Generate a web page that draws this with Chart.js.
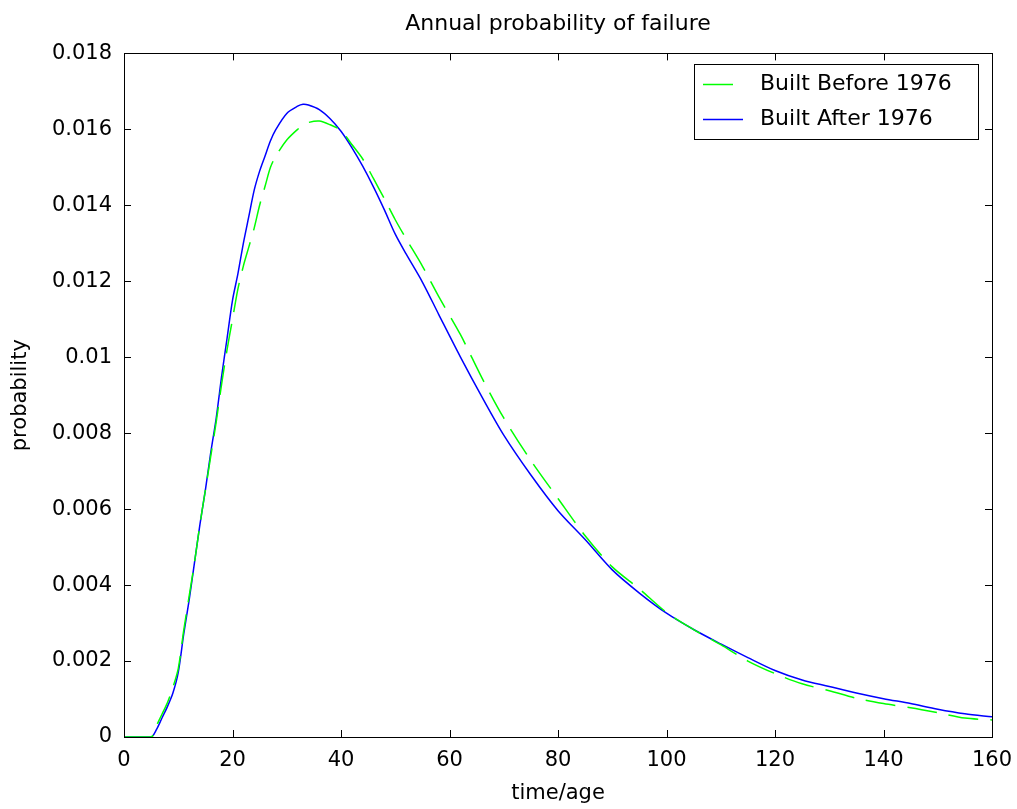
<!DOCTYPE html>
<html>
<head>
<meta charset="utf-8">
<title>Annual probability of failure</title>
<script src="https://cdn.jsdelivr.net/npm/chart.js@4.4.1/dist/chart.umd.min.js"></script>
<style>
	html, body { margin: 0; padding: 0; background: #fff; }
	#wrap { width: 1017px; height: 809px; }
</style>
</head>
<body>
<div id="wrap"><canvas id="failureChart" width="1017" height="809"></canvas></div>
<script>
'use strict';

// 데이터 (time/age 기준)
const ages = [0, 5, 6, 7, 8, 9, 10, 11, 12, 13, 14, 15, 16, 17, 18, 19, 20, 21, 22, 23, 24, 25, 26, 27, 28, 30, 32, 33, 34, 36, 38, 40, 42, 44, 46, 48, 50, 52, 55, 58, 62, 66, 70, 75, 80, 85, 90, 95, 100, 105, 110, 115, 120, 125, 130, 135, 140, 145, 150, 155, 160];

const builtBefore = [0, 0, 0.0003, 0.0006, 0.0009, 0.0013, 0.0018, 0.0028, 0.0037, 0.0046, 0.0056, 0.0065, 0.0074, 0.0083, 0.0093, 0.0102, 0.0110, 0.0118, 0.0124, 0.0129, 0.0134, 0.0140, 0.0145, 0.0150, 0.0153, 0.01572, 0.0160, 0.0161, 0.01618, 0.01622, 0.01612, 0.01597, 0.0156, 0.01522, 0.0147, 0.01417, 0.01362, 0.01312, 0.0124, 0.0116, 0.0106, 0.00945, 0.0084, 0.00728, 0.00628, 0.0053, 0.00448, 0.0039, 0.00328, 0.00283, 0.00243, 0.002, 0.00167, 0.0014, 0.00122, 0.00102, 0.00088, 0.00077, 0.00064, 0.0005, 0.00045];

const builtAfter = [0, 0, 0.0002, 0.0005, 0.0008, 0.00115, 0.0017, 0.0027, 0.0036, 0.0046, 0.0056, 0.0065, 0.0075, 0.0084, 0.0095, 0.0105, 0.0115, 0.0122, 0.0130, 0.0137, 0.0144, 0.0149, 0.0153, 0.0157, 0.0160, 0.01642, 0.01661, 0.01666, 0.01664, 0.01652, 0.01628, 0.01595, 0.01552, 0.01503, 0.01448, 0.01388, 0.01324, 0.01272, 0.01198, 0.01113, 0.01001, 0.00895, 0.00795, 0.0069, 0.00596, 0.0052, 0.0044, 0.00379, 0.00326, 0.00283, 0.00245, 0.00209, 0.00175, 0.0015, 0.00133, 0.00116, 0.00101, 0.00088, 0.00073, 0.00061, 0.00053];

const seriesLabels = ['Built Before 1976', 'Built After 1976'];
const yTickLabels = ['0', '0.002', '0.004', '0.006', '0.008', '0.01', '0.012', '0.014', '0.016', '0.018'];
const xTickLabels = ['0', '20', '40', '60', '80', '100', '120', '140', '160'];

const FONT = 'DejaVu Sans';

// x/y 점 배열 만들기
function toPoints(values) {
	return ages.map((age, i) => ({ x: age, y: values[i] }));
}

// 프레임 + 안쪽 눈금 (MATLAB box on)
const framePlugin = {
	id: 'frame',
	afterDraw(chart) {
		const ctx = chart.ctx;
		const area = chart.chartArea;
		const xs = chart.scales.x;
		const ys = chart.scales.y;
		const len = 7;

		ctx.save();
		ctx.strokeStyle = '#000';
		ctx.lineWidth = 1;
		ctx.strokeRect(Math.round(area.left) + 0.5, Math.round(area.top) + 0.5,
			Math.round(area.right - area.left), Math.round(area.bottom - area.top));

		ctx.beginPath();
		xs.ticks.forEach(t => {
			const px = Math.round(xs.getPixelForValue(t.value)) + 0.5;
			ctx.moveTo(px, area.bottom);
			ctx.lineTo(px, area.bottom - len);
			ctx.moveTo(px, area.top);
			ctx.lineTo(px, area.top + len);
		});
		ys.ticks.forEach(t => {
			const py = Math.round(ys.getPixelForValue(t.value)) + 0.5;
			ctx.moveTo(area.left, py);
			ctx.lineTo(area.left + len, py);
			ctx.moveTo(area.right, py);
			ctx.lineTo(area.right - len, py);
		});
		ctx.stroke();
		ctx.restore();
	}
};

// 범례 (플롯 안쪽 오른쪽 위)
const boxLegendPlugin = {
	id: 'boxLegend',
	afterDraw(chart) {
		const ctx = chart.ctx;
		const box = { left: 694, top: 64, right: 978, bottom: 139 };
		const rows = [84, 119];

		ctx.save();
		ctx.fillStyle = '#fff';
		ctx.fillRect(box.left, box.top, box.right - box.left, box.bottom - box.top);
		ctx.strokeStyle = '#000';
		ctx.lineWidth = 1;
		ctx.strokeRect(box.left + 0.5, box.top + 0.5, box.right - box.left, box.bottom - box.top);

		chart.data.datasets.forEach((ds, i) => {
			const y = rows[i] + 0.5;
			ctx.beginPath();
			ctx.strokeStyle = ds.borderColor;
			ctx.lineWidth = 1.5;
			ctx.setLineDash(ds.borderDash || []);
			ctx.moveTo(703, y);
			ctx.lineTo(743, y);
			ctx.stroke();
			ctx.setLineDash([]);

			ctx.fillStyle = '#000';
			ctx.font = '22px "' + FONT + '"';
			ctx.textAlign = 'left';
			ctx.textBaseline = 'middle';
			ctx.fillText(ds.label, 760, rows[i]);
		});
		ctx.restore();
	}
};

// 차트 초기화
function initFailureChart() {
	const failure_chart = document.getElementById('failureChart');
	if (!failure_chart) return;

	new Chart(failure_chart, {
		type: 'line',
		data: {
			datasets: [{
				label: seriesLabels[0],
				data: toPoints(builtBefore),
				borderColor: '#00ff00',
				borderWidth: 1.5,
				borderDash: [30, 12],
				pointRadius: 0,
				tension: 0.3,
				fill: false
			}, {
				label: seriesLabels[1],
				data: toPoints(builtAfter),
				borderColor: '#0000ff',
				borderWidth: 1.5,
				pointRadius: 0,
				tension: 0.3,
				fill: false
			}]
		},
		options: {
			responsive: false,
			animation: false,
			layout: {
				padding: { left: 0, right: 25, top: 0, bottom: 0 }
			},
			plugins: {
				legend: { display: false },
				tooltip: { enabled: false },
				title: {
					display: true,
					fullSize: false,
					text: 'Annual probability of failure',
					color: '#000',
					font: { family: FONT, size: 22, weight: 'normal' },
					padding: { top: 11, bottom: 16 }
				}
			},
			scales: {
				x: {
					type: 'linear',
					min: 0,
					max: 160,
					afterFit(scale) {
						scale.height = 72;
						scale.paddingLeft = 0;
						scale.paddingRight = 0;
					},
					grid: { display: false, drawTicks: false },
					border: { display: false },
					ticks: {
						stepSize: 20,
						padding: 11,
						color: '#000',
						maxRotation: 0,
						font: { family: FONT, size: 21 },
						callback: (v, i) => xTickLabels[i]
					},
					title: {
						display: true,
						text: 'time/age',
						color: '#000',
						font: { family: FONT, size: 21 },
						padding: { top: 0, bottom: 3 }
					}
				},
				y: {
					min: 0,
					max: 0.018,
					afterFit(scale) { scale.width = 124; },
					grid: { display: false, drawTicks: false },
					border: { display: false },
					ticks: {
						stepSize: 0.002,
						padding: 12,
						color: '#000',
						font: { family: FONT, size: 21 },
						callback: (v, i) => yTickLabels[i]
					},
					title: {
						display: true,
						text: 'probability',
						color: '#000',
						font: { family: FONT, size: 21 },
						padding: { top: 8, bottom: 0 }
					}
				}
			}
		},
		plugins: [framePlugin, boxLegendPlugin]
	});
}

document.addEventListener('DOMContentLoaded', function() {
	initFailureChart();
});
</script>
</body>
</html>
